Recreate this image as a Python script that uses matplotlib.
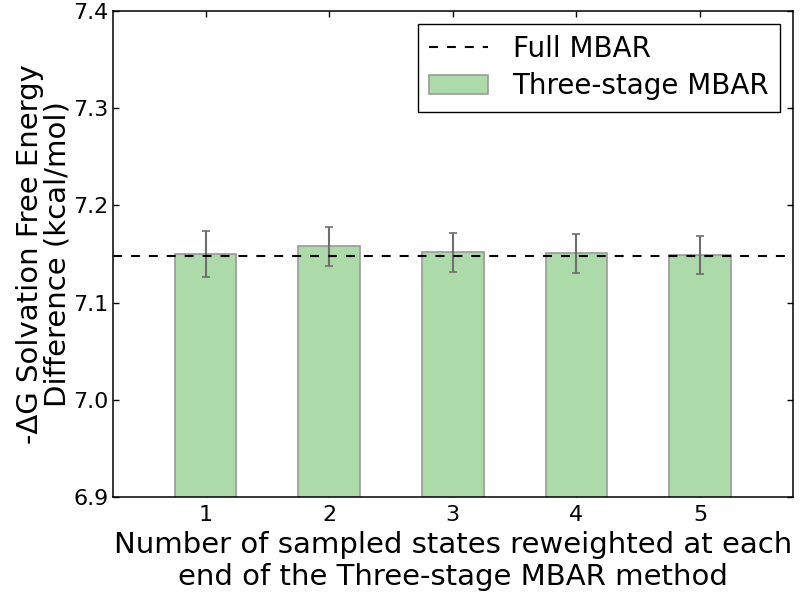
import numpy as np
import matplotlib
matplotlib.use("Agg")
import matplotlib.pyplot as plt

# data
n_states = [1, 2, 3, 4, 5]
three_stage = [7.150, 7.158, 7.152, 7.151, 7.149]
three_stage_err = [0.024, 0.020, 0.020, 0.020, 0.020]
full_mbar = 7.148

fig = plt.figure(figsize=(8, 5.96), dpi=100)
ax = fig.add_axes([0.141, 0.166, 0.85, 0.8154])

ax.bar(n_states, three_stage, width=0.5, color='#acdaa9', edgecolor='#9a9a9a',
       linewidth=1.2, label='Three-stage MBAR', zorder=2)
ax.errorbar(n_states, three_stage, yerr=three_stage_err, fmt='none',
            ecolor='#6e6e6e', elinewidth=1.5, capsize=3, capthick=1.2, zorder=3)
ax.axhline(full_mbar, color='black', linestyle='--', dashes=(4.3, 4.3),
           linewidth=1.5, label='Full MBAR', zorder=4)

ax.set_xlim(0.25, 5.75)
ax.set_ylim(6.9, 7.4)
ax.set_xticks(n_states)
ax.set_yticks(np.arange(6.9, 7.41, 0.1))
ax.set_yticklabels(['6.9', '7.0', '7.1', '7.2', '7.3', '7.4'])
ax.tick_params(direction='in', top=True, right=True, length=4, width=1,
               labelsize=16)
ax.tick_params(axis='x', pad=6)
ax.tick_params(axis='y', pad=3)
for s in ax.spines.values():
    s.set_linewidth(1.1)

ax.set_xlabel('Number of sampled states reweighted at each\nend of the Three-stage MBAR method',
              fontsize=21, labelpad=4)
ax.set_ylabel('-\u0394G Solvation Free Energy\nDifference (kcal/mol)', fontsize=21,
              labelpad=1, linespacing=1.0)

handles, labels = ax.get_legend_handles_labels()
order = [labels.index('Full MBAR'), labels.index('Three-stage MBAR')]
leg = ax.legend([handles[i] for i in order], [labels[i] for i in order],
                loc='upper right', fontsize=20, fancybox=False, framealpha=1,
                edgecolor='black', borderaxespad=0.45, handlelength=2.1,
                handletextpad=0.9, borderpad=0.4, labelspacing=0.35)
leg.get_frame().set_linewidth(1.0)

fig.savefig('out.png', dpi=100)
